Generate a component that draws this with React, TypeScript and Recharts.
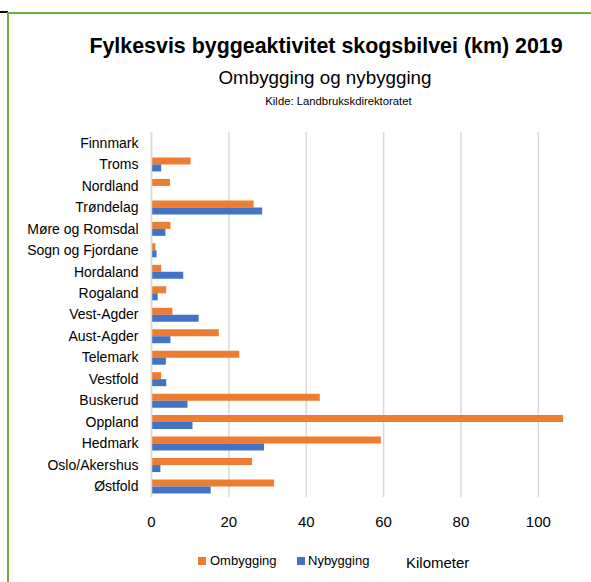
import { BarChart, Bar, XAxis, YAxis, CartesianGrid } from 'recharts';

const fylker = [
  'Finnmark', 'Troms', 'Nordland', 'Trøndelag', 'Møre og Romsdal', 'Sogn og Fjordane',
  'Hordaland', 'Rogaland', 'Vest-Agder', 'Aust-Agder', 'Telemark', 'Vestfold',
  'Buskerud', 'Oppland', 'Hedmark', 'Oslo/Akershus', 'Østfold',
];
const ombygging = [0, 10.1, 4.8, 26.4, 4.9, 1.0, 2.5, 3.8, 5.4, 17.4, 22.7, 2.5, 43.5, 106.4, 59.3, 26.0, 31.7];
const nybygging = [0, 2.5, 0, 28.6, 3.6, 1.3, 8.2, 1.6, 12.2, 4.9, 3.7, 3.8, 9.3, 10.6, 29.1, 2.3, 15.3];
const kmTicks = [0, 20, 40, 60, 80, 100];
const kmMax = 110;

const ORANGE = '#ED7D31';
const BLUE = '#4472C4';
const FONT = '"Liberation Sans", Arial, sans-serif';

const data = fylker.map((name, i) => ({ name, ombygging: ombygging[i], nybygging: nybygging[i] }));

// only draw grid lines at the labelled ticks
const gridX = ({ xAxis, offset }: any) =>
  kmTicks.map((t) =>
    xAxis && typeof xAxis.scale === 'function'
      ? xAxis.scale(t)
      : offset.left + (t / kmMax) * offset.width
  );

export default function App() {
  return (
    <div style={{ position: 'absolute', left: 0, top: 0, width: 591, height: 582, background: '#fff', fontFamily: FONT, color: '#000' }}>
      {/* frame lines */}
      <div style={{ position: 'absolute', left: 0, top: 11, width: 8, height: 2, background: '#000' }} />
      <div style={{ position: 'absolute', left: 7, top: 12, width: 584, height: 2, background: '#70AD47' }} />
      <div style={{ position: 'absolute', left: 7, top: 12, width: 2, height: 570, background: '#70AD47' }} />

      <div style={{ position: 'absolute', left: 0, width: 652, top: 33, textAlign: 'center', fontSize: 21.4, fontWeight: 'bold', lineHeight: '26px' }}>
        Fylkesvis byggeaktivitet skogsbilvei (km) 2019
      </div>
      <div style={{ position: 'absolute', left: 0, width: 650, top: 66, textAlign: 'center', fontSize: 18.8, lineHeight: '24px' }}>
        Ombygging og nybygging
      </div>
      <div style={{ position: 'absolute', left: 0, width: 677, top: 94, textAlign: 'center', fontSize: 11.3, lineHeight: '14px' }}>
        Kilde: Landbrukskdirektoratet
      </div>

      <div style={{ position: 'absolute', left: 0, top: 0 }}>
        <BarChart
          width={591}
          height={582}
          data={data}
          layout="vertical"
          margin={{ top: 132, right: 14, left: 0, bottom: 55 }}
          barGap={0}
        >
          <CartesianGrid horizontal={false} stroke="#d9d9d9" strokeWidth={1.5} verticalCoordinatesGenerator={gridX} />
          <XAxis
            type="number"
            domain={[0, kmMax]}
            ticks={kmTicks}
            height={30}
            axisLine={false}
            tickLine={false}
            tickMargin={13}
            tick={{ fontSize: 15, fill: '#000', fontFamily: FONT }}
          />
          <YAxis
            type="category"
            dataKey="name"
            width={151.5}
            interval={0}
            tickLine={false}
            tickSize={8}
            tickMargin={5}
            axisLine={{ stroke: '#d9d9d9', strokeWidth: 1.5 }}
            tick={{ fontSize: 14, fill: '#000', fontFamily: FONT }}
          />
          <Bar dataKey="ombygging" fill={ORANGE} barSize={7} isAnimationActive={false} />
          <Bar dataKey="nybygging" fill={BLUE} barSize={7} isAnimationActive={false} />
        </BarChart>
      </div>

      {/* legend */}
      <div style={{ position: 'absolute', left: 198, top: 557, width: 8, height: 8, background: ORANGE }} />
      <div style={{ position: 'absolute', left: 210, top: 552, fontSize: 13, lineHeight: '18px' }}>Ombygging</div>
      <div style={{ position: 'absolute', left: 297, top: 557, width: 8, height: 8, background: BLUE }} />
      <div style={{ position: 'absolute', left: 308, top: 552, fontSize: 13, lineHeight: '18px' }}>Nybygging</div>
      <div style={{ position: 'absolute', left: 406, top: 553, fontSize: 15, lineHeight: '20px' }}>Kilometer</div>
    </div>
  );
}
